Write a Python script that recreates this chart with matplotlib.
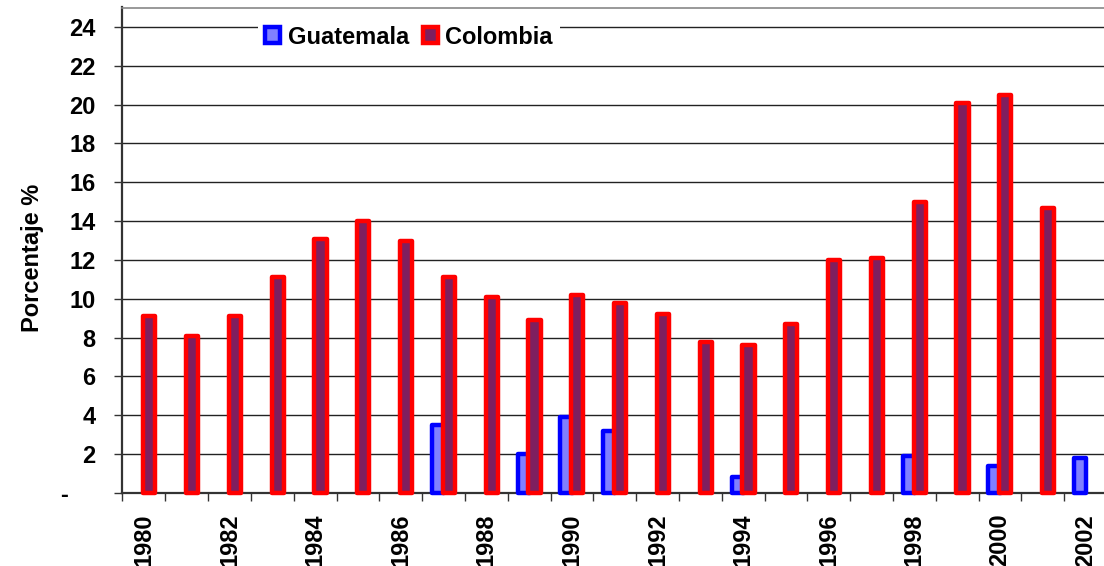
import matplotlib
matplotlib.use("Agg")
import matplotlib.pyplot as plt
import numpy as np

years = list(range(1980, 2003))
guatemala = [None, None, None, None, None, None, None, 3.5, None, 2.0, 3.9, 3.2,
             None, None, 0.8, None, None, None, 1.9, None, 1.4, None, 1.8]
colombia = [9.1, 8.1, 9.1, 11.1, 13.1, 14.0, 13.0, 11.1, 10.1, 8.9, 10.2, 9.8,
            9.2, 7.8, 7.6, 8.7, 12.0, 12.1, 15.0, 20.1, 20.5, 14.7, None]
series_names = ["Guatemala", "Colombia"]
y_ticks = list(range(0, 25, 2))

plt.rcParams["font.family"] = ["Liberation Sans", "DejaVu Sans"]
plt.rcParams["font.weight"] = "bold"
FS = 17

W, H = 1104, 566
fig = plt.figure(figsize=(W / 100, H / 100), dpi=100)
left_px, right_px, top_px, base_px = 122.5, 1106.9, 7.5, 493.0
ax = fig.add_axes([left_px / W, 1 - base_px / H,
                   (right_px - left_px) / W, (base_px - top_px) / H])

x = np.arange(len(years))
width = 0.285
offset = 0.128
edge_lw = 3.2

def values(seq):
    return np.array([np.nan if v is None else v for v in seq], dtype=float)

g = values(guatemala)
c = values(colombia)
mask_g = ~np.isnan(g)
mask_c = ~np.isnan(c)

bars_g = ax.bar(x[mask_g] - offset, g[mask_g], width, color="#8080FF",
                edgecolor="#0000FF", linewidth=edge_lw, zorder=3,
                label=series_names[0], clip_on=False)
bars_c = ax.bar(x[mask_c] + offset, c[mask_c], width, color="#7F1F5F",
                edgecolor="#FF0000", linewidth=edge_lw, zorder=4,
                label=series_names[1], clip_on=False)
for b in list(bars_g) + list(bars_c):
    b.set_joinstyle("round")

ax.set_xlim(-0.5, len(years) - 0.5)
ax.set_ylim(0, 25)

# horizontal grid
ax.yaxis.grid(True, color="#222222", linewidth=1.0)
ax.set_axisbelow(True)

# y axis
ax.set_yticks(y_ticks)
ax.set_yticklabels(["-    "] + [str(v) for v in y_ticks[1:]],
                   fontsize=FS, fontweight="bold")
ax.tick_params(axis="y", direction="out", length=5.8, width=1.0,
               color="#333333", pad=13.5)

# x axis: tick marks at category boundaries, labels on even years
ax.set_xticks(np.arange(-0.5, len(years), 1.0), minor=True)
ax.set_xticks(x[::2])
ax.set_xticklabels([str(y) for y in years[::2]], rotation=90,
                   fontsize=FS, fontweight="bold", va="top")
ax.tick_params(axis="x", which="major", length=0, pad=15)
ax.tick_params(axis="x", which="minor", direction="out", length=5.8,
               width=1.0, color="#333333")

for side in ("left", "bottom"):
    ax.spines[side].set_color("#333333")
    ax.spines[side].set_linewidth(1.6)
ax.spines["top"].set_color("#888888")
ax.spines["top"].set_linewidth(1.2)
ax.spines["right"].set_visible(False)

fig.text(33 / W, 1 - 258 / H, "Porcentaje %", rotation=90, ha="center",
         va="center", fontsize=FS, fontweight="bold")

leg = ax.legend(loc="center left", bbox_to_anchor=(258 / W, 1 - 37 / H),
                bbox_transform=fig.transFigure, ncol=2, frameon=True,
                facecolor="white", edgecolor="none", framealpha=1.0,
                fancybox=False, borderpad=0.3, borderaxespad=0,
                handlelength=0.65, handleheight=0.65, handletextpad=0.3,
                columnspacing=0.6, prop={"size": FS, "weight": "bold"})
leg.set_zorder(6)

fig.savefig("out.png", dpi=100)
